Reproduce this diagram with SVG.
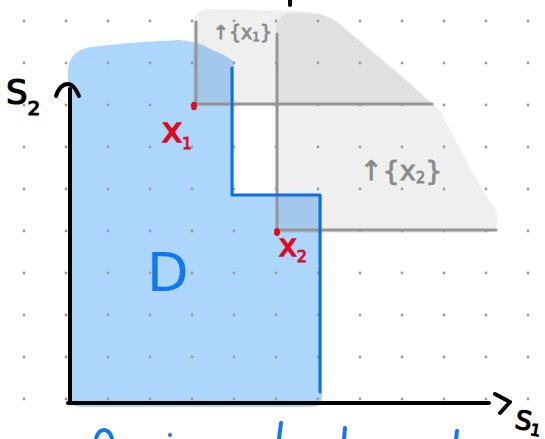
<svg xmlns="http://www.w3.org/2000/svg" width="545" height="439" viewBox="0 0 545 439">
<defs>
<pattern id="dots" patternUnits="userSpaceOnUse" x="3" y="0" width="42" height="42">
<circle cx="21" cy="21" r="1.4" fill="#9a9a9a"/>
</pattern>
<style>
.gfill{fill:#000;fill-opacity:0.063}
.gline{stroke:#969696;stroke-width:3;fill:none;stroke-linecap:round}
.bline{stroke:#0d6fe6;stroke-width:3;fill:none;stroke-linecap:round;stroke-linejoin:round}
.axis{stroke:#000;stroke-width:4;fill:none;stroke-linecap:round;stroke-linejoin:round}
.hand{font-family:"DejaVu Sans","Liberation Sans",sans-serif}
.red{fill:#df0a1e}
.gtxt{fill:#8a8a8a;stroke:#8a8a8a;stroke-width:0.8}
</style>
</defs>
<rect width="545" height="439" fill="#fff"/>
<g id="region-D">
<path d="M68,72 Q68,50 92,47 Q130,42 180,40 Q200,42 212,50 Q226,55 234,62 L234,195 L322,195 L322,398 Q322,407 310,407 L80,407 Q68,406 68,395 Z" fill="#add6fd"/>
</g>
<g id="up-x1">
<path class="gfill" d="M193,24 Q194,9 212,9 L300,11 Q326,13 342,26 L405,78 L434,106 L193,106 Z"/>
</g>
<g id="up-x2">
<path class="gfill" d="M276,26 Q279,13 296,13 L322,14 Q336,18 350,33 L405,80 L440,110 L458,145 L482,190 L497,212 Q501,232 485,233 L276,233 Z"/>
</g>
<rect width="545" height="439" fill="url(#dots)"/>
<g id="connectors">
<path class="gline" d="M196,22 L196,104 L432,104"/>
<path class="gline" d="M277,34 L277,230 L496,230"/>
<path class="bline" d="M232,68 L232,195 L320,195 L320,392"/>
<path class="axis" d="M70,403 L70,89"/>
<path class="axis" d="M56,96 Q60,84 68,84 Q74,84 79,96"/>
<path class="axis" d="M68,403 L489,403"/>
<path class="axis" d="M495,394 L510,402 L500,413"/>
</g>
<g id="x1">
<ellipse class="red" cx="194" cy="106" rx="3" ry="4.2"/>
<text class="hand red" x="162" y="142" font-size="34" stroke="#df0a1e" stroke-width="1.5">x<tspan font-size="15" stroke-width="1" dy="7">1</tspan></text>
</g>
<g id="x2">
<ellipse class="red" cx="277" cy="232" rx="3" ry="4"/>
<text class="hand red" x="279" y="256" font-size="30" stroke="#df0a1e" stroke-width="1.5">x<tspan font-size="16" stroke-width="1" dy="6">2</tspan></text>
</g>
<g id="label-D">
<text class="hand" x="147" y="291" font-size="54" fill="#1177ee">D</text>
</g>
<g id="label-up-x1">
<text class="hand gtxt" x="213" y="39" font-size="19">↑{x<tspan font-size="12" dy="2">1</tspan><tspan dy="-2">}</tspan></text>
</g>
<g id="label-up-x2">
<text class="hand gtxt" x="360" y="180" font-size="27">↑{x<tspan font-size="15" dy="3">2</tspan><tspan dy="-3">}</tspan></text>
</g>
<g id="axis-labels">
<text class="hand" x="6" y="104" font-size="34" fill="#000" stroke="#000" stroke-width="1.2">S<tspan font-size="20" dy="11">2</tspan></text>
<text class="hand" x="514" y="428" font-size="26" fill="#000" stroke="#000" stroke-width="1.2" transform="rotate(10 514 428)">S<tspan font-size="16" dy="4">1</tspan></text>
</g>
<g id="fragments" fill="none" stroke-linecap="round">
<path d="M290,0 L290,5" stroke="#000" stroke-width="4"/>
<path d="M96,439 Q98,430 104,430 Q110,430 112,439" stroke="#1177ee" stroke-width="4"/>
<circle cx="170" cy="435" r="2" fill="#1177ee"/>
<path d="M281,423 L279,439" stroke="#1177ee" stroke-width="4"/>
<path d="M345,428 L344,439" stroke="#1177ee" stroke-width="4"/>
<path d="M457,431 L456,439" stroke="#1177ee" stroke-width="4"/>
</g>
</svg>
